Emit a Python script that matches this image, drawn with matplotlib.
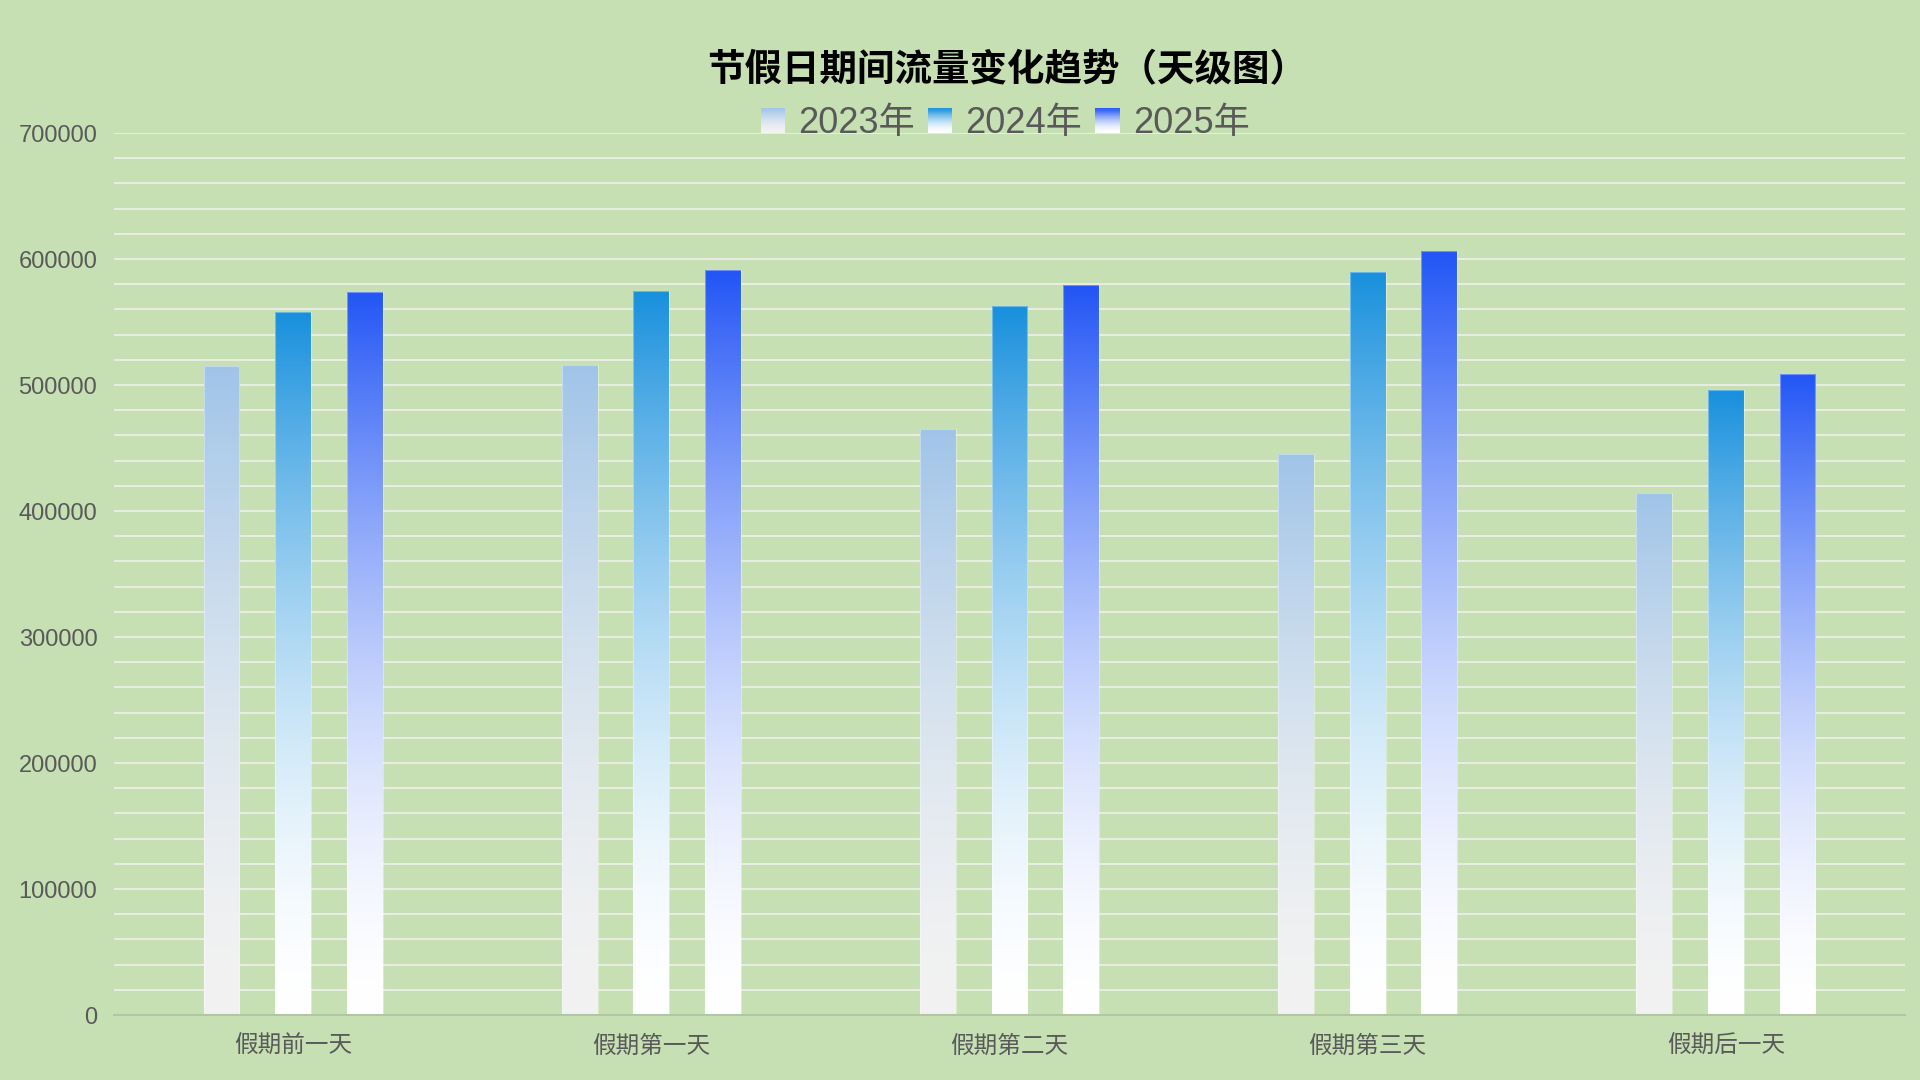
import numpy as np
import matplotlib
matplotlib.use("Agg")
import matplotlib.pyplot as plt
from matplotlib.patches import Rectangle, Patch
from matplotlib.legend_handler import HandlerBase
from matplotlib.colors import to_rgb

# ---------------- data ----------------
categories = ["假期前一天", "假期第一天", "假期第二天", "假期第三天", "假期后一天"]
series_names = ["2023年", "2024年", "2025年"]
values_2023 = [515000, 516000, 465000, 445000, 414000]
values_2024 = [558000, 575000, 563000, 590000, 496000]
values_2025 = [574000, 591000, 579000, 606000, 509000]
title_text = "节假日期间流量变化趋势（天级图）"
y_max = 700000
y_major = 100000
y_minor = 20000

# ---------------- style ----------------
BG = "#c6e0b4"
GRID = "#eceee8"
AXIS = "#b2c6a4"
TEXT = "#595959"
grad_top = ["#a0c4e8", "#1890dd", "#2255f5"]
grad_bottom = ["#f2f2f2", "#ffffff", "#ffffff"]
GRAD_EXP = 1.7

FAM = ["Liberation Sans", "Noto Sans CJK SC", "DejaVu Sans"]
plt.rcParams["font.family"] = FAM

fig = plt.figure(figsize=(19.2, 10.8), dpi=100, facecolor=BG)
ax = fig.add_axes([114 / 1920, 65 / 1080, (1905 - 114) / 1920, (1015 - 133) / 1080])
ax.set_facecolor(BG)

series = [values_2023, values_2024, values_2025]
x = np.arange(len(categories))
bar_w = 0.1
offsets = [-0.2, 0.0, 0.2]


def gradient_image(top, bottom, n=256):
    t = np.linspace(0, 1, n)[:, None] ** GRAD_EXP
    top = np.array(to_rgb(top))
    bottom = np.array(to_rgb(bottom))
    img = bottom[None, :] + (top - bottom)[None, :] * t
    return img[:, None, :]


for si, vals in enumerate(series):
    bars = ax.bar(x + offsets[si], vals, width=bar_w, facecolor="none",
                  edgecolor=(1, 1, 1, 0.35), linewidth=0.8, zorder=3)
    img = gradient_image(grad_top[si], grad_bottom[si])
    for rect in bars:
        x0 = rect.get_x()
        x1 = x0 + rect.get_width()
        h = rect.get_height()
        im = ax.imshow(img, extent=[x0, x1, 0, h], origin="lower",
                       aspect="auto", zorder=2, interpolation="bilinear")
        im.set_clip_path(rect)

ax.set_xlim(-0.5, len(categories) - 0.5)
ax.set_ylim(0, y_max)
ax.set_aspect("auto")

ax.set_yticks(np.arange(0, y_max + 1, y_major))
ax.set_yticks(np.arange(0, y_max + 1, y_minor), minor=True)
ax.set_yticklabels([f"{int(v)}" for v in np.arange(0, y_max + 1, y_major)])
ax.set_xticks(x)
ax.set_xticklabels(categories)

ax.grid(axis="y", which="both", color=GRID, linewidth=1.3, zorder=1)
ax.set_axisbelow(True)
ax.tick_params(axis="both", which="both", length=0)
ax.tick_params(axis="y", labelsize=17, labelcolor=TEXT, pad=12)
ax.tick_params(axis="x", labelsize=17, labelcolor=TEXT, pad=14)
for lab in ax.get_xticklabels():
    lab.set_family(["Noto Sans CJK SC", "DejaVu Sans"])

for s in ["top", "right", "left"]:
    ax.spines[s].set_visible(False)
ax.spines["bottom"].set_color(AXIS)
ax.spines["bottom"].set_linewidth(1.5)
ax.spines["bottom"].set_zorder(4)

# title
fig.text(1007 / 1920, 1 - 70 / 1080, title_text, ha="center", va="center",
         fontsize=27, fontweight="bold", color="black",
         family=["Noto Sans CJK SC", "DejaVu Sans"])


# legend with gradient squares
class GradHandler(HandlerBase):
    def __init__(self, top, bottom, n=24):
        super().__init__()
        self.top = np.array(to_rgb(top))
        self.bottom = np.array(to_rgb(bottom))
        self.n = n

    def create_artists(self, legend, orig_handle, xdescent, ydescent,
                       width, height, fontsize, trans):
        arts = []
        hstep = height / self.n
        for i in range(self.n):
            frac = ((i + 0.5) / self.n) ** GRAD_EXP
            c = self.bottom + (self.top - self.bottom) * frac
            r = Rectangle((-xdescent, -ydescent + i * hstep), width, hstep * 1.05,
                          facecolor=c, edgecolor="none", transform=trans)
            arts.append(r)
        return arts


handles = [Patch(label=n) for n in series_names]
hmap = {h: GradHandler(grad_top[i], grad_bottom[i]) for i, h in enumerate(handles)}
leg = fig.legend(handles=handles, labels=series_names, handler_map=hmap,
                 loc="center", bbox_to_anchor=(1005 / 1920, 1 - 124 / 1080),
                 ncol=3, frameon=False, fontsize=26,
                 handlelength=0.68, handleheight=0.68, handletextpad=0.36,
                 columnspacing=0.36, borderaxespad=0)
for t in leg.get_texts():
    t.set_color(TEXT)

fig.savefig("out.png", dpi=100, facecolor=BG)
